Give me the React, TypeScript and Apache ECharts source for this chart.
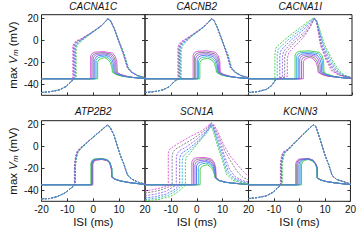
import React, { useEffect, useRef } from "react";
import * as echarts from "echarts";

const panelTitles = ["CACNA1C", "CACNB2", "CACNA1I", "ATP2B2", "SCN1A", "KCNN3"];
// colour order: magenta, gray, violet, blue, cyan, green
const curveColors = ["#dc4cdc", "#7a7a7a", "#9660ec", "#5470f0", "#2cb2d6", "#42c842"];
const xTicks = [-20, -10, 0, 10, 20];
const yTicks = [-40, -20, 0, 20];
const xName = "ISI (ms)";

// ---------- CACNA1C ----------
const cacna1cDashed = [
  [-20,-47.5,-16,-46.5,-13,-45,-10.5,-42,-8.5,-37.5,-7.9,-35.5,-7.9,-5,-7.3,-2,-6.3,-0.2,-5,1,-2,5.2,1,9.8,3,13.2,4.5,16.6,5.6,19.6,6.6,18,8,11,10,-2,11.6,-12.5,13.2,-25,14.7,-29,17,-32,20,-34],
  [-20,-47.5,-16,-46.5,-13,-45,-10.5,-42,-8.5,-37.5,-7.6,-35.2,-7.6,-5.5,-7,-2.4,-6,-0.5,-5,0.8,-2,5,1,9.7,3,13.1,4.5,16.5,5.6,19.5,6.6,18,8,11.2,10,-1.8,11.6,-12.3,13.2,-25,14.7,-29,17,-32,20,-34],
  [-20,-47.5,-16,-46.5,-13,-45,-10.5,-42,-8.5,-37.5,-7.4,-35,-7.4,-6,-6.8,-2.8,-5.8,-0.8,-5,0.5,-2,4.8,1,9.6,3,13,4.5,16.5,5.6,19.5,6.6,18,8,11.4,10,-1.6,11.7,-12.5,13.3,-25,14.8,-29,17,-32,20,-34],
  [-20,-47.5,-16,-46.5,-13,-45,-10.5,-42,-8.5,-37.5,-7.1,-34.8,-7.1,-6.5,-6.5,-3.2,-5.5,-1.2,-4.8,0,-2,4.6,1,9.5,3,13,4.5,16.5,5.6,19.5,6.6,18,8,11.5,10,-1.4,11.8,-12.5,13.4,-25,14.9,-29,17,-32,20,-34],
  [-20,-47.5,-16,-46.5,-13,-45,-10.5,-42,-8.5,-37.5,-6.9,-34.6,-6.9,-7,-6.3,-3.6,-5.3,-1.4,-4.5,0,-2,4.4,1,9.4,3,12.9,4.5,16.4,5.6,19.5,6.6,18,8,11.6,10,-1.2,11.9,-12.5,13.5,-25,15,-29,17,-32,20,-34],
  [-20,-47.5,-16,-46.5,-13,-45,-10.5,-42,-8.5,-37.5,-6.6,-34.4,-6.6,-7.5,-6,-4,-5,-1.6,-4.2,0,-2,4.2,1,9.3,3,12.8,4.5,16.3,5.6,19.4,6.6,18,8,11.7,10,-1,12,-12.5,13.6,-25,15.1,-29,17.2,-32,20,-34],
];
const cacna1cSolid = [
  [-20,-35,-1,-35,-1,-14.2,-0.5,-12,0.5,-10.8,4,-10.2,7.5,-11.7,8.5,-14.7,9.1,-19.2,9.3,-29,10.6,-31,13.1,-32.7,15,-33.7,20,-34.8],
  [-20,-35,-0.5,-35,-0.5,-15.2,0,-13,1,-11.8,4.1,-11.2,7.1,-12.7,8.1,-15.7,8.7,-20.2,8.9,-29,10.2,-31,12.7,-32.7,15,-33.7,20,-34.8],
  [-20,-35,0,-35,0,-16.2,0.5,-14,1.5,-12.8,4.2,-12.2,6.7,-13.7,7.7,-16.7,8.3,-21.2,8.5,-29,9.8,-31,12.3,-32.7,15,-33.7,20,-34.8],
  [-20,-35,0.6,-35,0.6,-17.3,1.1,-15.1,2.1,-13.9,4.3,-13.3,6.3,-14.8,7.3,-17.8,7.9,-22.3,8.1,-29,9.4,-31,11.9,-32.7,15,-33.7,20,-34.8],
  [-20,-35,1.1,-35,1.1,-18.5,1.6,-16.3,2.6,-15.1,4.3,-14.5,5.9,-16,6.9,-19,7.5,-23.5,7.7,-29,9,-31,11.5,-32.7,15,-33.7,20,-34.8],
  [-20,-35,1.7,-35,1.7,-19.8,2.2,-17.6,3.2,-16.4,4.5,-15.8,5.6,-17.3,6.6,-20.3,7.2,-24.8,7.4,-29,8.7,-31,11.2,-32.7,15,-33.7,20,-34.8],
];

// ---------- CACNB2 ----------
const cacnb2Dashed = [
  [-20,-47.5,-16,-46.5,-13,-45,-10.5,-42,-8.5,-37,-7.3,-35.2,-7.3,-6,-6.7,-2.8,-5.7,-0.6,-4.5,1,-1.5,5.5,1.5,10.3,3.2,13.5,4.6,16.8,5.7,19.7,6.7,18,8,11,10,-2,11.6,-12.5,13,-25,14.6,-29,17,-32,20,-34],
  [-20,-47.5,-16,-46.5,-13,-45,-10.5,-42,-8.5,-37,-7,-35,-7,-6.5,-6.4,-3.2,-5.4,-1,-4.3,0.8,-1.5,5.3,1.5,10.2,3.2,13.4,4.6,16.7,5.7,19.6,6.7,18,8,11.2,10,-1.8,11.6,-12.3,13.1,-25,14.7,-29,17,-32,20,-34],
  [-20,-47.5,-16,-46.5,-13,-45,-10.5,-42,-8.5,-37,-6.8,-34.8,-6.8,-7,-6.2,-3.6,-5.2,-1.3,-4.1,0.6,-1.5,5.1,1.5,10.1,3.2,13.3,4.6,16.6,5.7,19.6,6.7,18,8,11.4,10,-1.6,11.7,-12.4,13.2,-25,14.8,-29,17,-32,20,-34],
  [-20,-47.5,-16,-46.5,-13,-45,-10.5,-42,-8.5,-37,-6.6,-34.7,-6.6,-7.5,-6,-4,-5,-1.6,-3.9,0.4,-1.5,4.9,1.5,10,3.2,13.2,4.6,16.6,5.7,19.6,6.7,18,8,11.5,10,-1.4,11.8,-12.5,13.3,-25,14.9,-29,17,-32,20,-34],
  [-20,-47.5,-16,-46.5,-13,-45,-10.5,-42,-8.5,-37,-6.3,-34.5,-6.3,-8,-5.7,-4.4,-4.7,-1.9,-3.7,0.2,-1.5,4.7,1.5,9.9,3.2,13.1,4.6,16.5,5.7,19.5,6.7,18,8,11.6,10,-1.2,11.9,-12.5,13.4,-25,15,-29,17,-32,20,-34],
  [-20,-47.5,-16,-46.5,-13,-45,-10.5,-42,-8.5,-37,-6,-34.3,-6,-8.5,-5.4,-4.8,-4.4,-2.2,-3.5,0,-1.5,4.5,1.5,9.8,3.2,13,4.6,16.4,5.7,19.4,6.7,18,8,11.7,10,-1,12,-12.5,13.5,-25,15.1,-29,17.2,-32,20,-34],
];
const cacnb2Solid = [
  [-20,-35,-1.4,-35,-1.4,-13.5,-0.9,-11.3,0.1,-10.1,3.75,-9.5,7.3,-11,8.3,-14,8.9,-18.5,9.1,-29,10.4,-31,12.9,-32.7,15,-33.7,20,-34.8],
  [-20,-35,-0.9,-35,-0.9,-14.8,-0.4,-12.6,0.6,-11.4,3.85,-10.8,7,-12.3,8,-15.3,8.6,-19.8,8.8,-29,10.1,-31,12.6,-32.7,15,-33.7,20,-34.8],
  [-20,-35,-0.4,-35,-0.4,-16.1,0.1,-13.9,1.1,-12.7,3.95,-12.1,6.7,-13.6,7.7,-16.6,8.3,-21.1,8.5,-29,9.8,-31,12.3,-32.7,15,-33.7,20,-34.8],
  [-20,-35,0.2,-35,0.2,-17.4,0.7,-15.2,1.7,-14,4.1,-13.4,6.4,-14.9,7.4,-17.9,8,-22.4,8.2,-29,9.5,-31,12,-32.7,15,-33.7,20,-34.8],
  [-20,-35,0.7,-35,0.7,-18.9,1.2,-16.7,2.2,-15.5,4.2,-14.9,6.1,-16.4,7.1,-19.4,7.7,-23.9,7.9,-29,9.2,-31,11.7,-32.7,15,-33.7,20,-34.8],
  [-20,-35,1.2,-35,1.2,-20.4,1.7,-18.2,2.7,-17,4.3,-16.4,5.8,-17.9,6.8,-20.9,7.4,-25.4,7.6,-29,8.9,-31,11.4,-32.7,15,-33.7,20,-34.8],
];

// ---------- CACNA1I ----------
const cacna1iDashed = [
  [-20,-47.5,-16,-46.5,-13,-44.5,-11,-41,-9.5,-36,-8,-34.5,-6.5,-33.5,-5,-33,-5,-16.5,-4.5,-11.5,-3.6,-9,1,2,3.5,10.5,5,17.5,5.5,19.5,6.3,16.8,7.8,-4.5,10,-18,12,-27.5,15,-31.8,20,-34.5],
  [-20,-47.5,-16,-46.5,-13,-44.5,-11,-41,-9.5,-36,-8,-34.5,-6,-33.6,-6,-16,-5.6,-11.3,-4.7,-8.6,-2,-1.5,1.9,6,3.8,12.5,5.3,18.8,5.5,19.6,6.3,17,8,-4.5,10.4,-18.5,12.6,-27.5,15.4,-31.8,20,-34.4],
  [-20,-47.5,-16,-46.5,-13,-44.5,-11,-41,-9.5,-36,-8,-34.5,-6.9,-33.9,-6.9,-15,-6.5,-10.5,-5.6,-8,-2.5,0,1.6,7.5,3.6,13.8,5.3,19.2,5.5,19.8,6.3,17.3,8.3,-4.4,10.8,-18.8,13.2,-27.5,15.8,-31.7,20,-34.3],
  [-20,-47.5,-16,-46.5,-13,-44.5,-11,-41,-9.5,-36,-7.9,-34.4,-7.9,-14,-7.5,-9.5,-6.6,-7,-3,1.5,1.2,9.5,3.4,15,5.2,19.5,5.4,20,6.3,17.6,8.6,-4.3,11.4,-19,13.8,-27.5,16.2,-31.7,20,-34.2],
  [-20,-47.5,-16,-46.5,-13,-44.5,-11,-41,-9.5,-36,-8.9,-35.2,-8.9,-13,-8.5,-8.2,-7.6,-5.8,-3.5,3,0.8,11,3.2,16,5.1,19.8,5.4,20.2,6.3,18,9,-4.2,12,-19,14.4,-27.5,16.6,-31.6,20,-34.1],
  [-20,-47.5,-16,-46.5,-13,-44.5,-11,-41,-9.8,-36,-9.8,-12,-9.4,-7,-8.5,-4.5,-4,4.5,0.5,12.5,3,17,5,20,5.4,20.3,6.3,18.5,9.4,-4,12.6,-19,15,-27.5,17,-31.5,20,-34],
];
const cacna1iSolid = [
  [-20,-35,1.2,-35,1.2,-19.5,1.7,-17.3,2.7,-16.1,3.95,-15.5,5.1,-17,6.1,-20,6.7,-24.5,6.9,-29,8.2,-31,10.7,-32.7,15,-33.7,20,-34.8],
  [-20,-35,0.5,-35,0.5,-18.3,1,-16.1,2,-14.9,3.8,-14.3,5.5,-15.8,6.5,-18.8,7.1,-23.3,7.3,-29,8.6,-31,11.1,-32.7,15,-33.7,20,-34.8],
  [-20,-35,-0.2,-35,-0.2,-17.1,0.3,-14.9,1.3,-13.7,3.7,-13.1,6,-14.6,7,-17.6,7.6,-22.1,7.8,-29,9.1,-31,11.6,-32.7,15,-33.7,20,-34.8],
  [-20,-35,-0.8,-35,-0.8,-15.9,-0.3,-13.7,0.7,-12.5,3.65,-11.9,6.5,-13.4,7.5,-16.4,8.1,-20.9,8.3,-29,9.6,-31,12.1,-32.7,15,-33.7,20,-34.8],
  [-20,-35,-1.4,-35,-1.4,-14.7,-0.9,-12.5,0.1,-11.3,3.6,-10.7,7,-12.2,8,-15.2,8.6,-19.7,8.8,-29,10.1,-31,12.6,-32.7,15,-33.7,20,-34.8],
  [-20,-35,-2,-35,-2,-13.5,-1.5,-11.3,-0.5,-10.1,3.5,-9.5,7.4,-11,8.4,-14,9,-18.5,9.2,-29,10.5,-31,13,-32.7,15,-33.7,20,-34.8],
];

// ---------- ATP2B2 ----------
const atp2b2Dashed = [
  [-20,-47.8,-17,-47.5,-14,-45.8,-11,-42.5,-8.5,-37.8,-7.3,-35.5,-7.3,-17.5,-6.9,-9.5,-6.3,-4.8,-5.2,-1.8,-2,4.5,1,10.5,3.5,15.5,5.4,19.4,6.5,17.5,8,10,10.2,-6.5,11.7,-15.5,13.2,-26,15,-30,17.5,-32.8,20,-34.3],
  [-20,-47.8,-17,-47.5,-14,-45.8,-11,-42.5,-8.5,-37.8,-7.2,-35.4,-7.2,-17.8,-6.8,-9.8,-6.2,-5,-5.1,-1.9,-2,4.4,1,10.5,3.5,15.5,5.4,19.3,6.5,17.5,8,10,10.2,-6.5,11.7,-15.5,13.2,-26,15,-30,17.5,-32.8,20,-34.3],
  [-20,-47.8,-17,-47.5,-14,-45.8,-11,-42.5,-8.5,-37.8,-7.1,-35.3,-7.1,-18,-6.7,-10,-6.1,-5.1,-5,-2,-2,4.4,1,10.4,3.5,15.4,5.4,19.3,6.5,17.5,8,10,10.2,-6.5,11.7,-15.5,13.2,-26,15,-30,17.5,-32.8,20,-34.3],
  [-20,-47.8,-17,-47.5,-14,-45.8,-11,-42.5,-8.5,-37.8,-7,-35.2,-7,-18.2,-6.6,-10.2,-6,-5.2,-4.9,-2,-2,4.3,1,10.4,3.5,15.4,5.4,19.3,6.5,17.5,8,10,10.2,-6.5,11.7,-15.5,13.2,-26,15,-30,17.5,-32.8,20,-34.3],
  [-20,-47.8,-17,-47.5,-14,-45.8,-11,-42.5,-8.5,-37.8,-6.95,-35.1,-6.95,-18.4,-6.55,-10.4,-5.95,-5.3,-4.85,-2.1,-2,4.2,1,10.3,3.5,15.3,5.4,19.2,6.5,17.5,8,10.1,10.2,-6.4,11.7,-15.4,13.2,-26,15,-30,17.5,-32.8,20,-34.3],
  [-20,-47.8,-17,-47.5,-14,-45.8,-11,-42.5,-8.5,-37.8,-6.9,-35,-6.9,-18.6,-6.5,-10.6,-5.9,-5.4,-4.8,-2.2,-2,4.1,1,10.2,3.5,15.2,5.4,19.1,6.5,17.5,8,10.2,10.2,-6.3,11.7,-15.3,13.2,-26,15,-30,17.5,-32.8,20,-34.3],
];
const atp2b2Solid = [
  [-20,-35,-0.15,-35,-0.15,-16.3,0.25,-13.8,1.05,-12.6,3.3,-12,5.3,-13,6.4,-15.3,6.8,-19.5,7,-21,7.1,-28,8.2,-29.8,10.5,-31.5,14,-33,20,-34.7],
  [-20,-35,-0.3,-35,-0.3,-16.1,0.1,-13.6,0.9,-12.4,3.3,-11.8,5.3,-12.8,6.4,-15.1,6.84,-19.3,7.04,-20.8,7.14,-28,8.24,-29.8,10.5,-31.5,14,-33,20,-34.7],
  [-20,-35,-0.45,-35,-0.45,-15.9,-0.05,-13.4,0.75,-12.2,3.3,-11.6,5.3,-12.6,6.4,-14.9,6.88,-19.1,7.08,-20.6,7.18,-28,8.28,-29.8,10.5,-31.5,14,-33,20,-34.7],
  [-20,-35,-0.6,-35,-0.6,-15.7,-0.2,-13.2,0.6,-12,3.3,-11.4,5.3,-12.4,6.4,-14.7,6.92,-18.9,7.12,-20.4,7.22,-28,8.32,-29.8,10.5,-31.5,14,-33,20,-34.7],
  [-20,-35,-0.75,-35,-0.75,-15.5,-0.35,-13,0.45,-11.8,3.3,-11.2,5.3,-12.2,6.4,-14.5,6.96,-18.7,7.16,-20.2,7.26,-28,8.36,-29.8,10.5,-31.5,14,-33,20,-34.7],
  [-20,-35,-0.9,-35,-0.9,-15.3,-0.5,-12.8,0.3,-11.6,3.3,-11,5.3,-12,6.4,-14.3,7,-18.5,7.2,-20,7.3,-28,8.4,-29.8,10.5,-31.5,14,-33,20,-34.7],
];

// ---------- SCN1A ----------
const scn1aDashed = [
  [-20,-40.5,-17,-39.5,-14,-37.8,-12,-36.3,-11,-35.5,-11,-6,-10.6,-3,-9.5,-1,-6.5,3.5,-2,9.5,1.5,13.5,3.5,17,5.7,21.5,6.5,20,8,14,10.5,1,13,-9,15.5,-16,18,-23,20,-27],
  [-20,-42.5,-16,-41,-13,-39,-11,-37,-9.5,-35.5,-9.5,-8,-9.1,-5,-8.2,-2.5,-5,1.8,-1,7.5,2,12.5,4,16.5,5.7,21,6.6,18.5,8.3,10,11,-5,13.5,-15,16,-24,18,-28.5,20,-30.5],
  [-20,-45,-16,-43.5,-12,-41,-9.5,-37.5,-7.9,-35.5,-7.9,-9.5,-7.5,-6.5,-6.7,-4,-4,-0.5,-0.5,5.5,2.5,11.5,4.3,16,5.6,20.5,6.5,17.5,8.2,8,10.8,-9,12.7,-21,14.8,-27.5,17.5,-31,20,-32.5],
  [-20,-47,-16,-45.8,-12,-43.5,-9,-40,-6.6,-35.5,-6.6,-11,-6.2,-8,-5.4,-5.5,-3,-2,0,4,2.8,10.5,4.5,15.5,5.6,20,6.4,17,8,6.5,10.4,-10,12.2,-23,14.5,-29,17.5,-32,20,-33.5],
  [-20,-48.5,-15,-47,-11,-44.5,-8,-40.5,-5.6,-35.5,-5.6,-12.5,-5.2,-9,-4.4,-7,-2.5,-3.5,0.5,3.5,3,9.5,4.6,14.5,5.5,19,6.3,16,7.8,5,10,-11,11.8,-24,14.2,-30,17.5,-33,20,-34],
  [-20,-49.6,-15,-48.5,-10,-45.5,-7,-41,-4.4,-35.5,-4.4,-14,-4,-10,-3.2,-8,-1,-1.5,1.8,7,3.5,12.5,5.4,18,6.2,15,7.6,4,9.8,-12,11.5,-25.5,14,-31,17.5,-33.5,20,-34.5],
];
const scn1aSolid = [
  [-20,-35,-1.9,-35,-1.9,-14,-1.4,-11.8,-0.4,-10.6,2.7,-10,5.7,-11.5,6.7,-14.5,7.3,-19,7.5,-28.5,8.8,-31,11.3,-32.7,15,-33.7,20,-34.8],
  [-20,-35,-1.3,-35,-1.3,-15.2,-0.8,-13,0.2,-11.8,2.95,-11.2,5.6,-12.7,6.6,-15.7,7.2,-20.2,7.4,-28.5,8.7,-31,11.2,-32.7,15,-33.7,20,-34.8],
  [-20,-35,-0.7,-35,-0.7,-16.5,-0.2,-14.3,0.8,-13.1,3.2,-12.5,5.5,-14,6.5,-17,7.1,-21.5,7.3,-28.5,8.6,-31,11.1,-32.7,15,-33.7,20,-34.8],
  [-20,-35,-0.1,-35,-0.1,-17.8,0.4,-15.6,1.4,-14.4,3.45,-13.8,5.4,-15.3,6.4,-18.3,7,-22.8,7.2,-28.5,8.5,-31,11,-32.7,15,-33.7,20,-34.8],
  [-20,-35,0.6,-35,0.6,-19.2,1.1,-17,2.1,-15.8,3.75,-15.2,5.3,-16.7,6.3,-19.7,6.9,-24.2,7.1,-28.5,8.4,-31,10.9,-32.7,15,-33.7,20,-34.8],
  [-20,-35,1.3,-35,1.3,-20.8,1.8,-18.6,2.8,-17.4,4.05,-16.8,5.2,-18.3,6.2,-21.3,6.8,-25.8,7,-28.5,8.3,-31,10.8,-32.7,15,-33.7,20,-34.8],
];

// ---------- KCNN3 ----------
const kcnn3Dashed = [
  [-20,-47.5,-16,-46.5,-13,-45,-10.5,-42,-8.5,-37.5,-7.5,-35.5,-7.5,-15,-7,-8,-6.3,-5,-4.8,-3,-0.3,7.2,3,14.5,4.8,18.3,5.4,19.7,6.4,18,8,7,9.9,-7.5,11.5,-17,12.8,-26.5,14.5,-30,17.7,-32.5,20,-34.3],
  [-20,-47.5,-16,-46.5,-13,-45,-10.5,-42,-8.5,-37.5,-7.35,-35.4,-7.35,-15.3,-6.85,-8.3,-6.15,-5.1,-4.7,-3,-0.3,7.1,3,14.4,4.8,18.3,5.4,19.7,6.4,18,8,7.1,9.9,-7.4,11.5,-16.9,12.8,-26.5,14.5,-30,17.7,-32.5,20,-34.3],
  [-20,-47.5,-16,-46.5,-13,-45,-10.5,-42,-8.5,-37.5,-7.2,-35.3,-7.2,-15.6,-6.7,-8.6,-6,-5.2,-4.6,-3,-0.3,7,3,14.4,4.8,18.2,5.4,19.6,6.4,18,8,7.2,9.9,-7.3,11.5,-16.8,12.8,-26.5,14.5,-30,17.7,-32.5,20,-34.3],
  [-20,-47.5,-16,-46.5,-13,-45,-10.5,-42,-8.5,-37.5,-7.05,-35.2,-7.05,-15.9,-6.55,-8.9,-5.85,-5.3,-4.5,-3.1,-0.3,6.9,3,14.3,4.8,18.2,5.4,19.6,6.4,18,8,7.3,9.9,-7.2,11.5,-16.7,12.8,-26.5,14.5,-30,17.7,-32.5,20,-34.3],
  [-20,-47.5,-16,-46.5,-13,-45,-10.5,-42,-8.5,-37.5,-6.9,-35.1,-6.9,-16.2,-6.4,-9.2,-5.7,-5.4,-4.4,-3.2,-0.3,6.8,3,14.3,4.8,18.1,5.4,19.5,6.4,18,8,7.4,9.9,-7.1,11.5,-16.6,12.8,-26.5,14.5,-30,17.7,-32.5,20,-34.3],
  [-20,-47.5,-16,-46.5,-13,-45,-10.5,-42,-8.5,-37.5,-6.75,-35,-6.75,-16.5,-6.25,-9.5,-5.55,-5.5,-4.3,-3.3,-0.3,6.7,3,14.2,4.8,18.1,5.4,19.5,6.4,18,8,7.5,9.9,-7,11.5,-16.5,12.8,-26.5,14.5,-30,17.7,-32.5,20,-34.3],
];
const kcnn3Solid = [
  [-20,-35,-1.5,-35,-1.5,-16,-1.1,-13.2,-0.3,-11.7,3.5,-11,5.3,-12.5,6.3,-15.5,7,-19,7.1,-28.8,8.3,-30.5,10,-31.8,14,-33.3,20,-34.8],
  [-20,-35,-1.1,-35,-1.1,-16.2,-0.7,-13.4,0.1,-11.9,3.5,-11.2,5.3,-12.7,6.3,-15.7,6.96,-19.2,7.06,-28.8,8.26,-30.5,10,-31.8,14,-33.3,20,-34.8],
  [-20,-35,-0.7,-35,-0.7,-16.4,-0.3,-13.6,0.5,-12.1,3.5,-11.4,5.3,-12.9,6.3,-15.9,6.92,-19.4,7.02,-28.8,8.22,-30.5,10,-31.8,14,-33.3,20,-34.8],
  [-20,-35,-0.2,-35,-0.2,-16.6,0.2,-13.8,1,-12.3,3.5,-11.6,5.3,-13.1,6.3,-16.1,6.88,-19.6,6.98,-28.8,8.18,-30.5,10,-31.8,14,-33.3,20,-34.8],
  [-20,-35,0.3,-35,0.3,-16.8,0.7,-14,1.5,-12.5,3.5,-11.8,5.3,-13.3,6.3,-16.3,6.84,-19.8,6.94,-28.8,8.14,-30.5,10,-31.8,14,-33.3,20,-34.8],
  [-20,-35,0.8,-35,0.8,-17,1.2,-14.2,2,-12.7,3.6,-12,5.3,-13.5,6.3,-16.5,6.8,-20,6.9,-28.8,8.1,-30.5,10,-31.8,14,-33.3,20,-34.8],
];

const panelDashed = [cacna1cDashed, cacnb2Dashed, cacna1iDashed, atp2b2Dashed, scn1aDashed, kcnn3Dashed];
const panelSolid = [cacna1cSolid, cacnb2Solid, cacna1iSolid, atp2b2Solid, scn1aSolid, kcnn3Solid];

function pairs(flat: number[]): number[][] {
  const out: number[][] = [];
  for (let i = 0; i < flat.length; i += 2) out.push([flat[i], flat[i + 1]]);
  return out;
}

const FONT = '"Liberation Sans", Arial, Helvetica, sans-serif';
const GRID_LEFTS = [41.5, 145, 248.5];
const GRID_TOPS = [14.7, 120.7];
const GRID_W = 103.5;
const GRID_H = 80.6;
const Y_MIN = -50;
const Y_MAX = 23.3;
const Y_STEP = yTicks[1] - yTicks[0];
const DRAW_ORDER = [0, 1, 2, 4, 5, 3];
const TICK = { show: true, inside: true, length: 3, lineStyle: { color: "#333", width: 1 } };

function yAxisBase(i: number, position: string) {
  return {
    gridIndex: i, type: "value", min: Y_MIN, max: Y_MAX, position,
    splitNumber: yTicks.length, minInterval: Y_STEP, maxInterval: Y_STEP,
    axisLine: { show: false, onZero: false }, splitLine: { show: false },
    axisTick: TICK,
  };
}

function buildOption() {
  const grid: any[] = [];
  const xAxis: any[] = [];
  const yAxis: any[] = [];
  const series: any[] = [];
  const title: any[] = [];
  for (let i = 0; i < 6; i++) {
    const row = Math.floor(i / 3);
    const col = i % 3;
    const left = GRID_LEFTS[col];
    const top = GRID_TOPS[row];
    grid.push({
      left, top, width: GRID_W, height: GRID_H,
      show: true, borderColor: "#1e1e1e", borderWidth: 1, backgroundColor: "transparent",
    });
    title.push({
      text: panelTitles[i],
      left: left + GRID_W / 2,
      top: row === 0 ? 1 : 106.5,
      textAlign: "center",
      padding: 0,
      textStyle: { fontFamily: FONT, fontSize: 10, fontStyle: "italic", fontWeight: "normal", color: "#111" },
    });
    xAxis.push({
      gridIndex: i, type: "value", position: "bottom",
      min: xTicks[0], max: xTicks[xTicks.length - 1], interval: xTicks[1] - xTicks[0],
      axisLine: { show: false, onZero: false }, splitLine: { show: false },
      axisTick: TICK,
      axisLabel: {
        show: row === 1, showMinLabel: col === 0, margin: 3,
        fontFamily: FONT, fontSize: 10, color: "#111",
      },
      name: row === 1 ? xName : "",
      nameLocation: "middle", nameGap: 15,
      nameTextStyle: { fontFamily: FONT, fontSize: 11.5, color: "#111" },
    });
    const leftName = col === 0;
    yAxis.push({
      ...yAxisBase(i, "left"),
      axisLabel: {
        show: leftName, showMinLabel: false, showMaxLabel: false, margin: 3,
        fontFamily: FONT, fontSize: 10, color: "#111",
      },
      name: leftName ? "{t|max }{i|V}{s|m}{t| (mV)}" : "",
      nameLocation: "middle", nameGap: 22,
      nameTextStyle: {
        rich: {
          t: { fontFamily: FONT, fontSize: 11.5, color: "#111", lineHeight: 14 },
          i: { fontFamily: FONT, fontSize: 11.5, fontStyle: "italic", color: "#111", lineHeight: 14 },
          s: { fontFamily: FONT, fontSize: 8, fontStyle: "italic", color: "#111", lineHeight: 8, verticalAlign: "bottom" },
        },
      },
    });
    yAxis.push({
      ...yAxisBase(i, "right"),
      axisLabel: { show: false },
    });
    for (const ci of DRAW_ORDER) {
      series.push({
        type: "line", xAxisIndex: i, yAxisIndex: 2 * i, data: pairs(panelSolid[i][ci]),
        showSymbol: false, symbol: "none", silent: true, clip: true,
        lineStyle: { color: curveColors[ci], width: 0.9 },
      });
    }
    for (const ci of DRAW_ORDER) {
      series.push({
        type: "line", xAxisIndex: i, yAxisIndex: 2 * i, data: pairs(panelDashed[i][ci]),
        showSymbol: false, symbol: "none", silent: true, clip: true,
        lineStyle: { color: curveColors[ci], width: 0.9, type: [2, 1.3] },
      });
    }
  }
  return {
    animation: false,
    backgroundColor: "#ffffff",
    title, grid, xAxis, yAxis, series,
  };
}

export default function App() {
  const ref = useRef<HTMLDivElement | null>(null);
  useEffect(() => {
    if (!ref.current) return;
    const chart = echarts.init(ref.current, undefined, { renderer: "svg" });
    chart.setOption(buildOption() as any);
    return () => chart.dispose();
  }, []);
  return (
    <div
      ref={ref}
      style={{ position: "fixed", left: 0, top: 0, width: 359, height: 240, background: "#fff" }}
    />
  );
}
